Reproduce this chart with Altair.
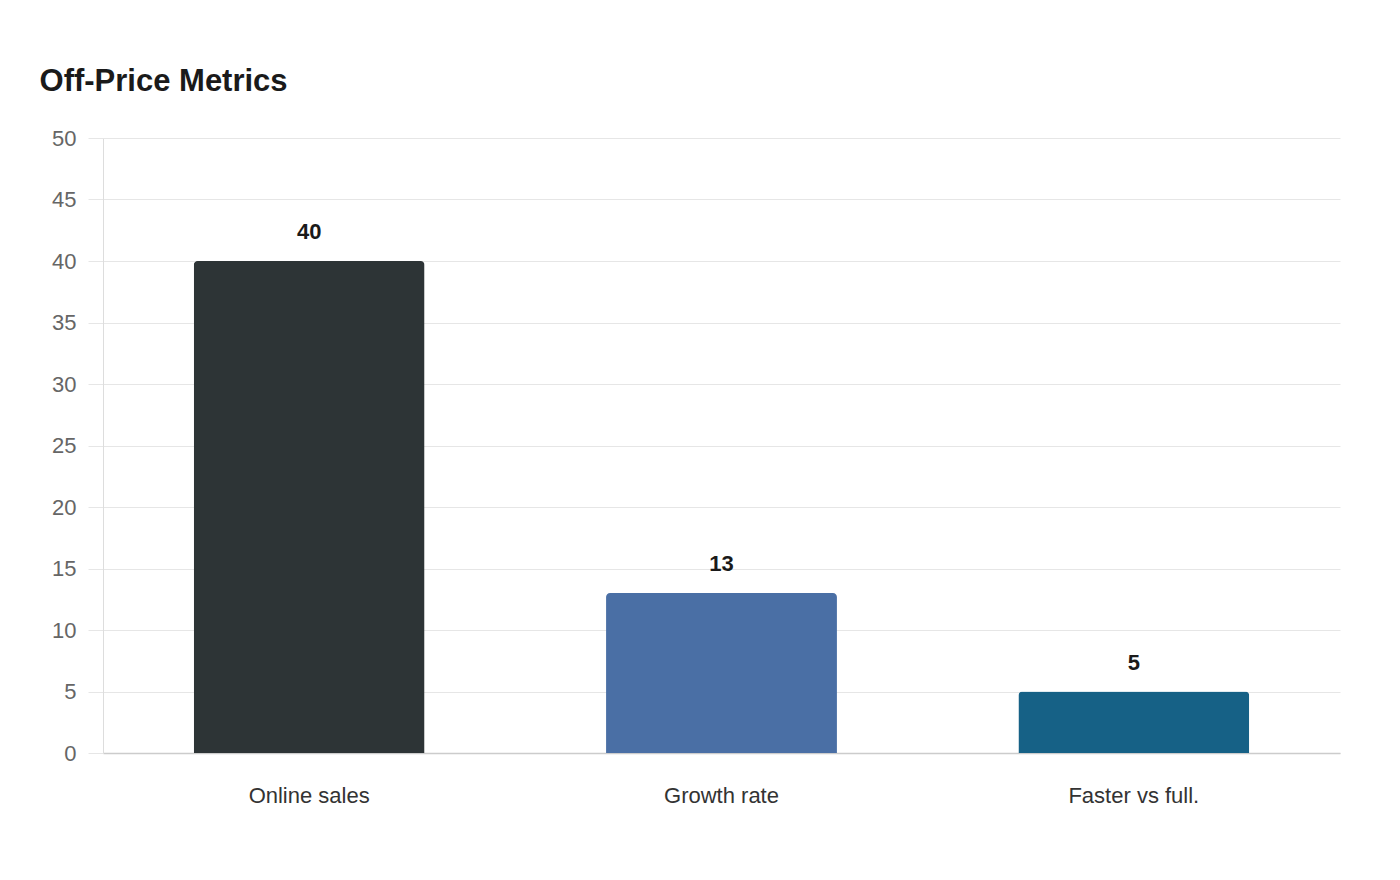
import altair as alt
import pandas as pd

# data
categories = ["Online sales", "Growth rate", "Faster vs full."]
values = [40, 13, 5]
colors = ["#2d3436", "#4a6fa5", "#166186"]

source = pd.DataFrame({"metric": categories, "value": values})

base = alt.Chart(source).encode(
    x=alt.X("metric:N", sort=categories, title=None,
            scale=alt.Scale(paddingInner=0.44, paddingOuter=0.22),
            axis=alt.Axis(labelAngle=0, labelFontSize=22, labelColor="#333333",
                          labelFont="Liberation Sans", labelPadding=32,
                          ticks=False, domainColor="#cccccc", domainWidth=1.5))
)

bars = base.mark_bar(cornerRadiusTopLeft=4, cornerRadiusTopRight=4).encode(
    y=alt.Y("value:Q", title=None, scale=alt.Scale(domain=[0, 50]),
            axis=alt.Axis(values=list(range(0, 51, 5)), labelFontSize=22,
                          labelColor="#666666", labelFont="Liberation Sans",
                          labelPadding=12, tickSize=15, tickColor="#e6e6e6",
                          gridColor="#e6e6e6", domainColor="#dddddd")),
    color=alt.Color("metric:N", sort=categories, legend=None,
                    scale=alt.Scale(domain=categories, range=colors)),
)

labels = base.mark_text(baseline="bottom", dy=-17, fontSize=22, fontWeight="bold",
                        font="Liberation Sans", color="#1a1a1a").encode(
    y=alt.Y("value:Q"),
    text=alt.Text("value:Q"),
)

chart = alt.layer(bars, labels).properties(
    width=1237,
    height=615,
    autosize=alt.AutoSizeParams(type="none"),
    padding={"left": 95, "top": 130, "right": 52, "bottom": 110},
    title=alt.TitleParams("Off-Price Metrics", anchor="start", font="Liberation Sans",
                          fontSize=31, fontWeight="bold", color="#1a1a1a",
                          dx=-12, offset=29),
).configure_view(stroke=None)

chart.save("out.html", embed_options={"renderer": "svg", "actions": False})
